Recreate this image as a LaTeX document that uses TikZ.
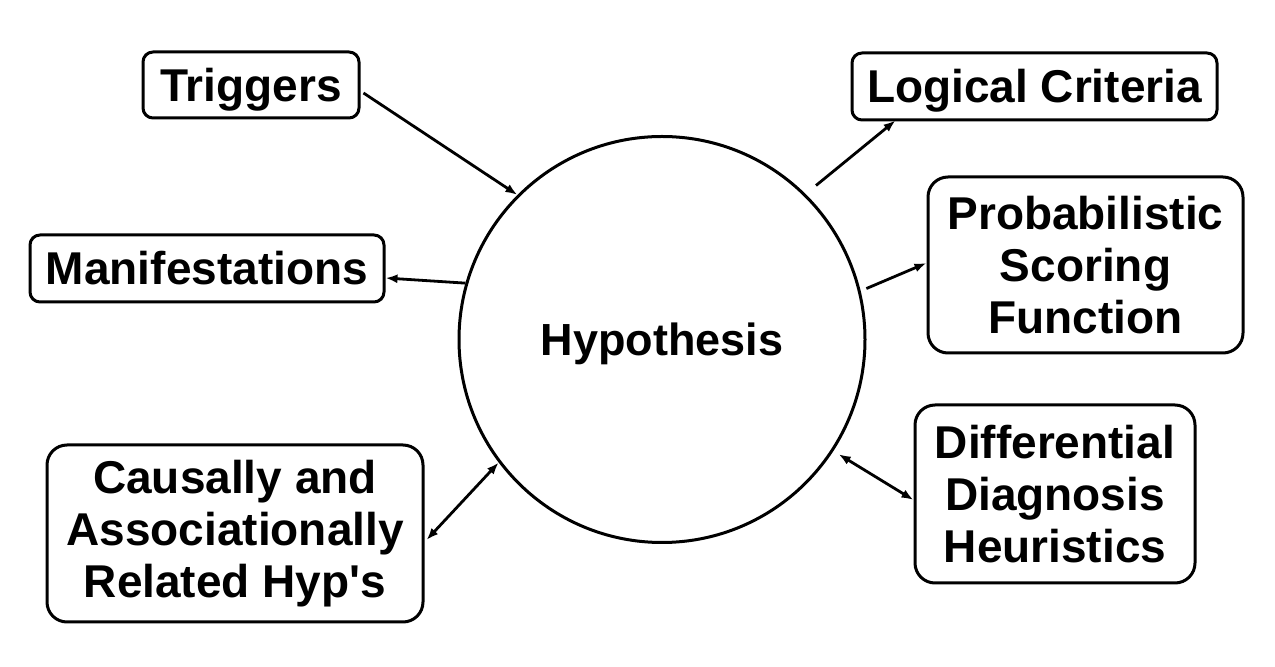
\documentclass[tikz,border=0pt]{standalone}
\usepackage{fontspec}
\setmainfont{Liberation Sans}
\usetikzlibrary{arrows.meta,calc}
\tikzset{
  box/.style={draw, line width=1.5pt, align=center, inner sep=0pt,
    font=\fontsize{23}{26}\selectfont\bfseries},
  sbox/.style={box, rounded corners=5pt, text height=16.5pt, text depth=0pt},
  mbox/.style={box, rounded corners=10pt},
  conn/.style={line width=1.4pt, -{Latex[length=6pt,width=4.5pt]}},
  conn2/.style={line width=1.4pt, {Latex[length=6pt,width=4.5pt]}-{Latex[length=6pt,width=4.5pt]}}
}
\begin{document}
\begin{tikzpicture}[x=0.5pt,y=-0.5pt]
\useasboundingbox (0,0) rectangle (1275,667);
\node[draw, circle, line width=1.5pt, minimum size=203pt, inner sep=0pt,
  text height=16.2pt, text depth=0pt,
  font=\fontsize{22.5}{26}\selectfont\bfseries] (hyp) at (662,339.5) {Hypothesis};
\node[sbox, minimum width=108pt, minimum height=33pt] (trig) at (251,85) {Triggers};
\node[sbox, minimum width=177pt, minimum height=33.5pt] (man) at (207,268.5) {Manifestations};
\node[mbox, minimum width=188pt, minimum height=88.5pt] (caus) at (235,533.5) {Causally and\\Associationally\\Related Hyp\textquotesingle s};
\node[sbox, minimum width=182.5pt, minimum height=33.5pt] (log) at (1034.5,86.5) {Logical Criteria};
\node[mbox, minimum width=157.5pt, minimum height=88pt] (prob) at (1085.5,265) {Probabilistic\\Scoring\\Function};
\node[mbox, minimum width=140pt, minimum height=89pt] (dif) at (1055,494) {Differential\\Diagnosis\\Heuristics};

\draw[conn] ($(trig.east)+(3,8)$) -- (hyp.135.5);
\draw[conn] (hyp.164) -- ($(man.east)+(0,9.5)$);
\draw[conn2] ($(caus.east)+(2,6.5)$) -- (hyp.217);
\draw[conn] ($(hyp.center)!1.065!(hyp.45)$) -- ($(log.south west)+(45,-1)$);
\draw[conn] ($(hyp.center)!1.03!(hyp.14)$) -- ($(prob.west)+(0,-2)$);
\draw[conn2] ($(hyp.center)!1.03!(hyp.-33)$) -- ($(dif.west)+(0,6)$);
\end{tikzpicture}
\end{document}
